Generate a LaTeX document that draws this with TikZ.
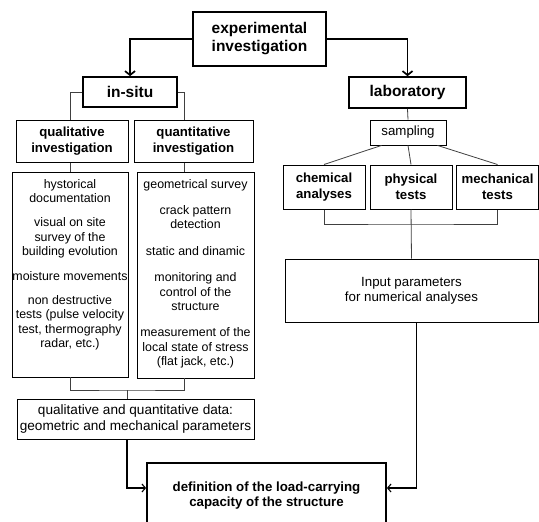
\documentclass[tikz,border=0pt]{standalone}
\usepackage{fontspec}
\setmainfont{Liberation Sans}
\usetikzlibrary{arrows.meta}

\begin{document}
\begin{tikzpicture}[
		x=1pt, y=-1pt,
		every node/.style={draw, rectangle, inner sep=0pt, align=center},
		big/.style={line width=1.7pt, font=\fontsize{15.5}{18}\selectfont\bfseries},
		head/.style={line width=1pt, font=\fontsize{13.2}{15.5}\selectfont\bfseries},
		plain/.style={line width=0.8pt, font=\fontsize{13.3}{15}\selectfont},
		listbox/.style={line width=0.8pt, font=\fontsize{12.4}{14.4}\selectfont},
		link/.style={draw=black!75, line width=0.8pt},
		arrow/.style={draw=black, line width=1.7pt, -{Straight Barb[length=4pt,width=10pt]}},
		lowarrow/.style={draw=black, line width=1.1pt, -{Straight Barb[length=3.5pt,width=8pt]}}
	]
	\useasboundingbox (0,0) rectangle (539,522);
	\coordinate (rc) at (184,0);
	\coordinate (lj) at (127,390);
	\coordinate (lb) at (0,224);
	\coordinate (fin) at (0,488);

	\node[big, minimum width=133pt, minimum height=54pt] (exp) at (259.5,39) {experimental\\investigation};
	\node[big, minimum width=94pt, minimum height=30pt] (insitu) at (130,92) {in-situ};
	\node[big, minimum width=117pt, minimum height=31pt] (lab) at (407.5,92.5) {laboratory};

	\node[head, minimum width=112pt, minimum height=42pt] (qual) at (72,141) {qualitative\\investigation};
	\node[head, minimum width=119pt, minimum height=42pt] (quant) at (193.5,141) {quantitative\\investigation};
	\node[listbox] (leftlist) at (70,274.5) {\parbox[c][205pt][t]{116pt}{\centering\rule{0pt}{16pt}hystorical\\documentation\\[10pt]visual on site\\survey of the\\building evolution\\[10pt]\makebox[0pt]{moisture movements}\\[10pt]non destructive\\\makebox[0pt]{tests (pulse velocity}\\test, thermography\\radar, etc.)}};
	\node[listbox] (rightlist) at (195.5,275) {\parbox[c][206pt][t]{117pt}{\centering\rule{0pt}{16pt}geometrical survey\\[12pt]crack pattern\\detection\\[12pt]static and dinamic\\[12pt]monitoring and\\control of the\\structure\\[12pt]\makebox[0pt]{measurement of the}\\\makebox[0pt]{local state of stress}\\(flat jack, etc.)}};
	\node[plain, font=\fontsize{13.6}{16.5}\selectfont, minimum width=237pt, minimum height=40pt] (data) at (135.5,419) {qualitative and quantitative data:\\geometric and mechanical parameters};

	\node[plain, minimum width=76pt, minimum height=25pt] (sampling) at (408,132.5) {sampling};
	\node[head, minimum width=82pt, minimum height=44pt] (chem) at (324,187) {chemical\\analyses};
	\node[head, minimum width=82pt, minimum height=44pt] (phys) at (411,187) {physical\\tests};
	\node[head, minimum width=82pt, minimum height=44pt] (mech) at (497.5,187) {mechanical\\tests};
	\node[plain, minimum width=253pt, minimum height=63pt] (input) at (411.5,290.5) {Input parameters\\for numerical analyses};

	\node[big, font=\fontsize{13.3}{15}\selectfont\bfseries, minimum width=239pt, minimum height=66pt] (final) at (266.5,496) {definition of the load-carrying\\capacity of the structure};

	\draw[arrow] (exp.west) -| (insitu.north);
	\draw[arrow] (exp.east) -| (lab.north);
	\draw[link] (insitu.west) -| (qual.north -| leftlist.north);
	\draw[link] (insitu.east) -| (quant.north -| rc);
	\draw[link] (qual.south -| leftlist.north) -- (leftlist.north);
	\draw[link] (quant.south -| rc) -- (rightlist.north -| rc);
	\draw[link] (leftlist.south) |- (lj) -| (rightlist.south -| rc);
	\draw[link] (lj) -- (data.north -| lj);
	\draw[lowarrow] (data.south -| lj) |- (final.west |- fin);

	\draw[link] (lab.south) -- (sampling.north);
	\draw[link] ([xshift=12pt]sampling.south west) -- (chem.north);
	\draw[link] (sampling.south) -- (phys.north);
	\draw[link] ([xshift=-9pt]sampling.south east) -- (mech.north);
	\draw[link] (chem.south) |- (lb -| phys.south) -| (mech.south);
	\draw[link] (phys.south) -- (input.north);
	\draw[lowarrow] ([xshift=5pt]input.south) |- (final.east |- fin);
\end{tikzpicture}
\end{document}
